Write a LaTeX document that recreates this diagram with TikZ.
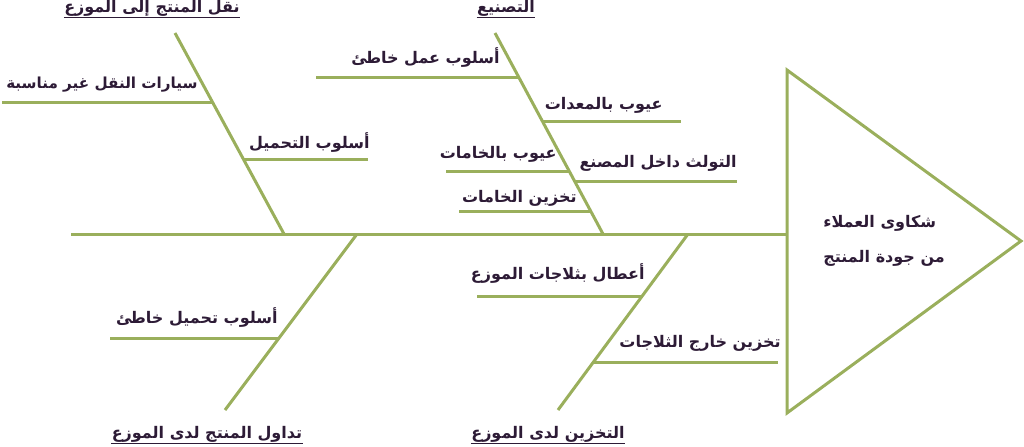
\documentclass[tikz,border=0pt]{standalone}
\usepackage{fontspec}
\newfontfamily\arabicfont[Script=Arabic]{DejaVu Sans}
\TeXXeTstate=1
\definecolor{bonegreen}{HTML}{9AAF5C}
\definecolor{inkpurple}{HTML}{2D1B36}
\newcommand{\ar}[1]{\arabicfont\bfseries\beginR #1\endR}

\begin{document}
\begin{tikzpicture}[x=.5pt,y=-.5pt,
 bone/.style={draw=bonegreen,line width=1.5pt},
 cause/.style={inner sep=0pt,text=inkpurple,font=\fontsize{8}{9}\selectfont},
 ulined/.style={draw=inkpurple,line width=.5pt}]
\useasboundingbox (0,0) rectangle (1024,446);
% spine and head
\coordinate (tail) at (71,234);
\coordinate (hd) at (787,234);
\coordinate (htop) at (787,70);
\coordinate (htip) at (1021,241);
\coordinate (hbot) at (787,413);
\draw[bone] (tail)--(hd);
\draw[bone] (htop)--(htip)--(hbot)--cycle;
\node[cause,anchor=west] (eff1) at (823,223) {\ar{شكاوى العملاء}};
\node[cause,anchor=west] (eff2) at (823,258) {\ar{من جودة المنتج}};
% bones
\coordinate (b1t) at (175,33);  \coordinate (b1b) at (284,234);
\coordinate (b2t) at (495,33);  \coordinate (b2b) at (603,234);
\coordinate (b3t) at (357,234); \coordinate (b3b) at (225,410);
\coordinate (b4t) at (688,234); \coordinate (b4b) at (558,410);
\draw[bone] (b1t)--(b1b);
\draw[bone] (b2t)--(b2b);
\draw[bone] (b3t)--(b3b);
\draw[bone] (b4t)--(b4b);
% sub bones
\coordinate (s11a) at (212,102); \coordinate (s11b) at (2,102);
\coordinate (s12a) at (244,159); \coordinate (s12b) at (368,159);
\coordinate (s21a) at (519,77);  \coordinate (s21b) at (316,77);
\coordinate (s22a) at (542,121); \coordinate (s22b) at (681,121);
\coordinate (s23a) at (569,171); \coordinate (s23b) at (446,171);
\coordinate (s24a) at (575,181); \coordinate (s24b) at (737,181);
\coordinate (s25a) at (591,211); \coordinate (s25b) at (459,211);
\coordinate (s31a) at (279,338); \coordinate (s31b) at (110,338);
\coordinate (s41a) at (642,296); \coordinate (s41b) at (477,296);
\coordinate (s42a) at (594,362); \coordinate (s42b) at (778,362);
\foreach \s in {s11,s12,s21,s22,s23,s24,s25,s31,s41,s42}
 \draw[bone] (\s a)--(\s b);
% causes
\node[cause,anchor=east,font=\fontsize{7.6}{9}\selectfont] (c11) at (198,85) {\ar{سيارات النقل غير مناسبة}};
\node[cause,anchor=east] (c12) at (370,143) {\ar{أسلوب التحميل}};
\node[cause,anchor=east] (c21) at (500,58) {\ar{أسلوب عمل خاطئ}};
\node[cause,anchor=east] (c22) at (663,105) {\ar{عيوب بالمعدات}};
\node[cause,anchor=east] (c23) at (557,154) {\ar{عيوب بالخامات}};
\node[cause,anchor=east] (c24) at (737,163) {\ar{التولث داخل المصنع}};
\node[cause,anchor=east] (c25) at (577,198) {\ar{تخزين الخامات}};
\node[cause,anchor=east] (c31) at (278,317) {\ar{أسلوب تحميل خاطئ}};
\node[cause,anchor=east] (c41) at (645,273) {\ar{أعطال بثلاجات الموزع}};
\node[cause,anchor=east] (c42) at (781,343) {\ar{تخزين خارج الثلاجات}};
% categories
\node[cause] (g1) at (152,8) {\ar{نقل المنتج إلى الموزع}};
\node[cause] (g2) at (506,8) {\ar{التصنيع}};
\node[cause] (g3) at (207,434) {\ar{تداول المنتج لدى الموزع}};
\node[cause] (g4) at (548,434) {\ar{التخزين لدى الموزع}};
\foreach \g in {g1,g2,g3,g4}
 \draw[ulined] ([yshift=-.6pt]\g.south west)--([yshift=-.6pt]\g.south east);
\end{tikzpicture}
\end{document}
